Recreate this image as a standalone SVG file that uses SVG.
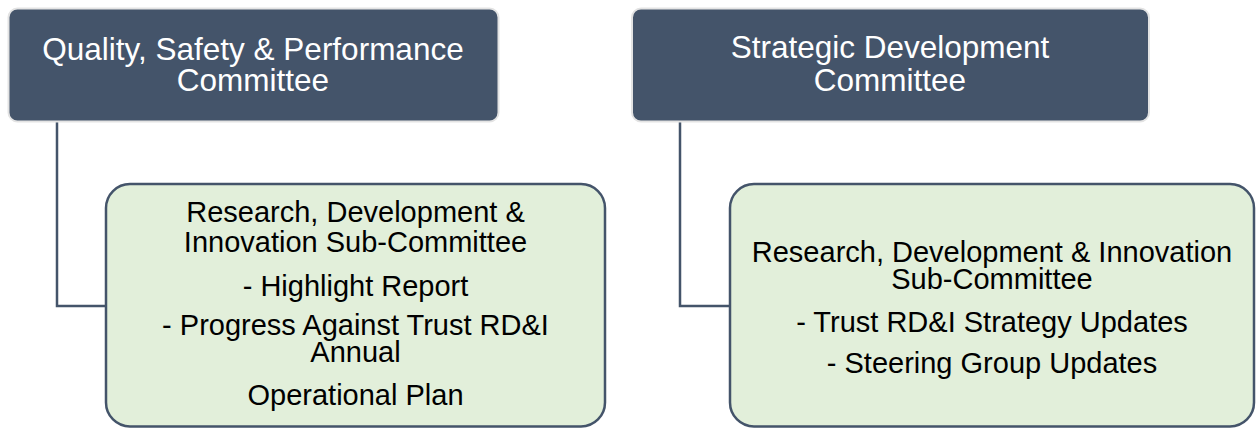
<svg xmlns="http://www.w3.org/2000/svg" width="1257" height="428" viewBox="0 0 1257 428">
  <style>
    .head rect { fill: #44546A; stroke: #E3E3E3; stroke-width: 2; }
    .head text { fill: #FFFFFF; font-family: "Liberation Sans", Arial, sans-serif; font-size: 31.5px; text-anchor: middle; }
    .sub rect { fill: #E2EFDA; stroke: #44546A; stroke-width: 2.5; }
    .sub text { fill: #000000; font-family: "Liberation Sans", Arial, sans-serif; font-size: 29px; text-anchor: middle; }
    .conn path { fill: none; stroke: #44546A; stroke-width: 2.5; }
  </style>
  <rect width="1257" height="428" fill="#FFFFFF"/>
  <g class="conn" id="connectors">
    <path d="M57 121 V306 H106"/>
    <path d="M680 121 V306 H730"/>
  </g>
  <g class="head" id="qsp-committee">
    <rect x="8.5" y="8.5" width="490" height="113" rx="9"/>
    <text x="253" y="59.5">Quality, Safety &amp; Performance</text>
    <text x="253" y="90.5">Committee</text>
  </g>
  <g class="head" id="strategic-committee">
    <rect x="632" y="8.5" width="517" height="113" rx="9"/>
    <text x="890" y="58">Strategic Development</text>
    <text x="890" y="90.5">Committee</text>
  </g>
  <g class="sub" id="rdi-left">
    <rect x="106" y="184" width="499" height="242.5" rx="24"/>
    <text x="355.5" y="222">Research, Development &amp;</text>
    <text x="355.5" y="252">Innovation Sub-Committee</text>
    <text x="355.5" y="296">- Highlight Report</text>
    <text x="355.5" y="335">- Progress Against Trust RD&amp;I</text>
    <text x="355.5" y="362">Annual</text>
    <text x="355.5" y="405">Operational Plan</text>
  </g>
  <g class="sub" id="rdi-right">
    <rect x="730" y="184" width="524" height="242.5" rx="24"/>
    <text x="992" y="262">Research, Development &amp; Innovation</text>
    <text x="992" y="289">Sub-Committee</text>
    <text x="992" y="332">- Trust RD&amp;I Strategy Updates</text>
    <text x="992" y="373">- Steering Group Updates</text>
  </g>
</svg>
